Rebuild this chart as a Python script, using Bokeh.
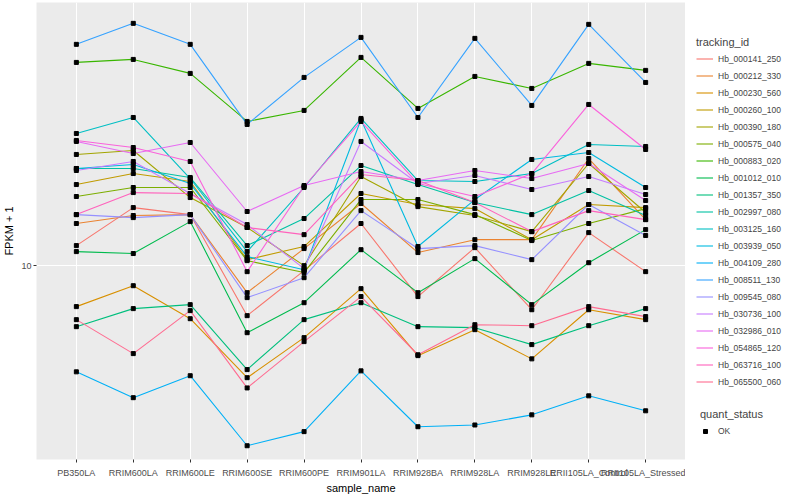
from bokeh.plotting import figure
from bokeh.layouts import row
from bokeh.models import FactorRange, Range1d, FixedTicker, PrintfTickFormatter, Legend, LegendItem
from bokeh.embed import file_html
from bokeh.resources import INLINE

samples = ["PB350LA", "RRIM600LA", "RRIM600LE", "RRIM600SE", "RRIM600PE", "RRIM901LA",
           "RRIM928BA", "RRIM928LA", "RRIM928LE", "RRII105LA_Control", "RRII105LA_Stressed"]

tracking_ids = ["Hb_000141_250", "Hb_000212_330", "Hb_000230_560", "Hb_000260_100", "Hb_000390_180",
                "Hb_000575_040", "Hb_000883_020", "Hb_001012_010", "Hb_001357_350", "Hb_002997_080",
                "Hb_003125_160", "Hb_003939_050", "Hb_004109_280", "Hb_008511_130", "Hb_009545_080",
                "Hb_030736_100", "Hb_032986_010", "Hb_054865_120", "Hb_063716_100", "Hb_065500_060"]

colors = ["#F8766D", "#EA8331", "#D89000", "#C09B00", "#A3A500", "#7CAE00", "#39B600", "#00BB4E",
          "#00BF7D", "#00C1A3", "#00BFC4", "#00BAE0", "#00B0F6", "#35A2FF", "#9590FF", "#C77CFF",
          "#E76BF3", "#FA62DB", "#FF62BC", "#FF6C91"]

Hb_000141_250 = [11.22, 13.96, 13.41, 7.50, 9.72, 12.74, 8.37, 11.09, 7.76, 12.09, 9.66]
Hb_000212_330 = [12.74, 13.34, 13.41, 8.56, 11.03, 14.29, 10.78, 11.61, 11.61, 18.51, 13.03]
Hb_000230_560 = [7.90, 8.91, 7.37, 5.25, 6.61, 8.76, 5.96, 6.92, 5.85, 7.76, 7.33]
Hb_000260_100 = [15.94, 16.98, 16.22, 10.35, 11.16, 15.14, 14.21, 13.88, 11.61, 14.21, 13.96]
Hb_000390_180 = [18.95, 19.39, 14.79, 12.45, 10.00, 16.69, 14.04, 13.34, 12.16, 17.99, 13.57]
Hb_000575_040 = [14.88, 15.67, 15.67, 10.29, 9.61, 14.62, 14.62, 13.41, 11.55, 12.74, 13.88]
Hb_000883_020 = [32.17, 32.73, 30.20, 22.91, 24.41, 33.11, 24.69, 29.68, 27.70, 31.99, 30.73]
Hb_001012_010 = [10.84, 10.72, 12.88, 6.80, 8.08, 10.96, 8.56, 10.41, 7.99, 10.17, 12.30]
Hb_001357_350 = [7.04, 7.81, 7.99, 5.50, 7.33, 8.08, 7.04, 7.00, 6.35, 7.08, 7.81]
Hb_002997_080 = [17.48, 17.48, 16.60, 11.22, 13.11, 17.78, 15.94, 14.37, 13.41, 15.40, 13.34]
Hb_003125_160 = [21.38, 23.44, 16.50, 10.84, 15.67, 23.31, 16.31, 16.22, 16.98, 20.07, 19.84]
Hb_003939_050 = [17.48, 17.89, 16.03, 10.53, 9.77, 23.17, 11.16, 14.62, 18.41, 19.16, 15.67]
Hb_004109_280 = [5.43, 4.68, 5.31, 3.55, 3.85, 5.46, 3.96, 4.00, 4.24, 4.73, 4.34]
Hb_008511_130 = [35.69, 40.27, 35.69, 22.52, 29.51, 37.15, 23.44, 36.94, 25.12, 40.04, 28.67]
Hb_009545_080 = [13.41, 13.18, 13.41, 8.32, 9.33, 13.72, 11.03, 11.22, 10.35, 14.21, 11.89]
Hb_030736_100 = [17.28, 18.20, 15.14, 12.66, 9.83, 20.42, 16.03, 16.79, 15.49, 16.69, 15.05]
Hb_032986_010 = [20.42, 19.05, 20.30, 13.65, 15.85, 17.18, 16.31, 17.28, 16.50, 17.99, 14.54]
Hb_054865_120 = [20.54, 19.72, 18.20, 9.66, 15.76, 22.91, 16.03, 14.88, 16.98, 25.26, 19.50]
Hb_063716_100 = [13.41, 15.22, 15.14, 12.45, 11.95, 16.88, 16.31, 14.37, 12.16, 13.72, 13.03]
Hb_065500_060 = [7.33, 6.03, 7.72, 4.95, 6.46, 8.37, 5.99, 7.12, 7.08, 7.90, 7.46]

series = [Hb_000141_250, Hb_000212_330, Hb_000230_560, Hb_000260_100, Hb_000390_180,
          Hb_000575_040, Hb_000883_020, Hb_001012_010, Hb_001357_350, Hb_002997_080,
          Hb_003125_160, Hb_003939_050, Hb_004109_280, Hb_008511_130, Hb_009545_080,
          Hb_030736_100, Hb_032986_010, Hb_054865_120, Hb_063716_100, Hb_065500_060]

y_ticks = [10]
quant_status = ["OK"]

FONT = "Liberation Sans"

p = figure(x_range=FactorRange(factors=samples, range_padding=0.2, range_padding_units="absolute"),
           y_range=Range1d(3.28, 45.4), y_axis_type="log",
           frame_width=649, frame_height=457,
           output_backend="svg", toolbar_location=None,
           min_border_top=2, min_border_left=0, min_border_bottom=0, min_border_right=0,
           background_fill_color="#EBEBEB", border_fill_color="white", outline_line_color=None)

# grid
p.xgrid.grid_line_color = "white"
p.xgrid.grid_line_width = 1.1
p.ygrid.grid_line_color = "white"
p.ygrid.grid_line_width = 1.1
p.ygrid.ticker = FixedTicker(ticks=y_ticks)

# axes
for ax in (p.xaxis[0], p.yaxis[0]):
    ax.axis_line_color = None
    ax.major_tick_line_color = "#333333"
    ax.major_tick_out = 3
    ax.major_tick_in = 0
    ax.minor_tick_line_color = None
    ax.major_label_text_font = FONT
    ax.major_label_text_font_size = "9px"
    ax.major_label_text_color = "#4D4D4D"
    ax.major_label_standoff = 2
    ax.axis_label_text_font = FONT
    ax.axis_label_text_font_size = "11px"
    ax.axis_label_text_font_style = "normal"
    ax.axis_label_text_color = "black"
    ax.axis_label_standoff = 3

p.xaxis.major_label_standoff = 5
p.xaxis.axis_label_standoff = 1
p.yaxis.ticker = FixedTicker(ticks=y_ticks, minor_ticks=[])
p.yaxis.formatter = PrintfTickFormatter(format="%d")
p.xaxis.axis_label = "sample_name"
p.yaxis.axis_label = "FPKM + 1"

for col, vals in zip(colors, series):
    p.line(samples, vals, line_color=col, line_width=1.1)

for vals in series:
    p.scatter(samples, vals, marker="square", size=4, fill_color="black", line_color="black")

# legend panel (separate canvas so the legends are not clipped by the plot frame)
lf = figure(width=106, height=489, output_backend="svg", toolbar_location=None,
            x_axis_location=None, y_axis_location=None,
            min_border_top=0, min_border_left=0, min_border_bottom=0, min_border_right=0,
            background_fill_color="white", border_fill_color="white", outline_line_color=None,
            x_range=Range1d(0, 1), y_range=Range1d(0, 1))
lf.grid.visible = False

# off-screen stand-in glyphs, used only to draw the legend keys
hidden = [5, 6]
items = []
for tid, col in zip(tracking_ids, colors):
    r = lf.line(x=hidden, y=hidden, line_color=col, line_width=1.1)
    items.append(LegendItem(label=tid, renderers=[r]))
pts = lf.scatter(x=hidden, y=hidden, marker="square", size=4, fill_color="black", line_color="black")

leg_kw = dict(label_height=17, spacing=0, padding=0, margin=0,
              label_text_font=FONT, label_text_font_size="8.5px",
              title_text_font=FONT, title_text_font_size="11px", title_text_font_style="normal",
              title_standoff=2, background_fill_alpha=0, border_line_alpha=0)

leg1 = Legend(items=items, location=(11, 62), title="tracking_id",
              glyph_width=17, glyph_height=17, label_standoff=5, **leg_kw)
lf.add_layout(leg1)

leg2 = Legend(items=[LegendItem(label=quant_status[0], renderers=[pts])], location=(15, 13),
              title="quant_status", glyph_width=10, glyph_height=10, label_standoff=8, **leg_kw)
lf.add_layout(leg2)

layout = row(p, lf, spacing=0)
open("out.html", "w").write(file_html(layout, INLINE))
